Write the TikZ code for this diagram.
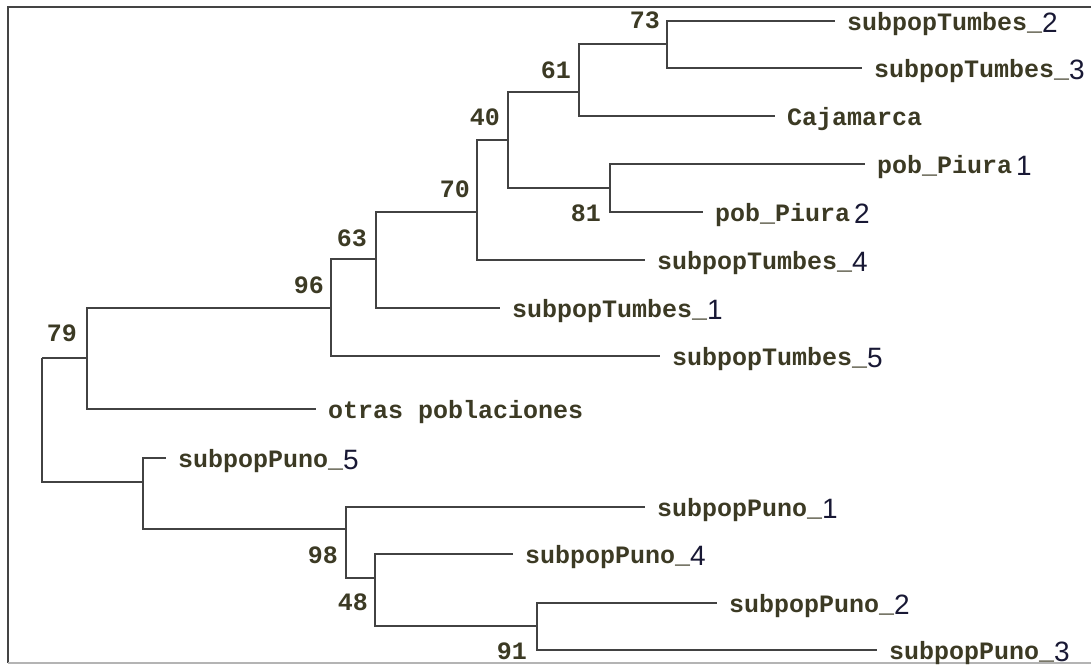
\documentclass[tikz,border=0pt]{standalone}
\usepackage{fontspec}
\newfontfamily\treefont{Liberation Mono}
\newfontfamily\tailfont{Liberation Sans}
\definecolor{branch}{RGB}{66,66,66}
\definecolor{ink}{RGB}{60,58,36}
\definecolor{tailink}{RGB}{24,24,52}
\definecolor{framedark}{RGB}{68,68,68}
\definecolor{framelight}{RGB}{180,180,180}
% trailing index digit of a taxon name, set in a proportional sans face
\newcommand{\tailnum}[1]{{\tailfont\mdseries\fontsize{28}{28}\selectfont\color{tailink}\raisebox{-2pt}{#1}}}

\tikzset{
  branchline/.style={draw=branch, line width=2.2pt},
  leaf/.style={anchor=west, inner xsep=12pt, inner ysep=0pt, outer sep=0pt,
    text height=23pt, text depth=5pt, text=ink,
    font={\treefont\bfseries\fontsize{25}{25}\selectfont}},
  boot/.style={anchor=east, inner sep=0pt, text=ink,
    font={\treefont\bfseries\fontsize{25}{25}\selectfont}},
}

\begin{document}
\begin{tikzpicture}[x=1pt, y=-1pt]
\useasboundingbox (0,0) rectangle (1091,665);

% window frame
\draw[framedark, line width=2pt] (7,7) -- (1091,7);
\draw[framedark, line width=2.4pt] (8,7) -- (8,663);
\draw[framelight, line width=1.5pt] (8,663) -- (1091,663);

% internal nodes (x of the vertical bar, y where the parent branch joins)
\coordinate (root)  at (42,358);
\coordinate (n79)   at (87,358);
\coordinate (n96)   at (331,308);
\coordinate (n63)   at (376,259);
\coordinate (n70)   at (477,212);
\coordinate (n40)   at (508,140);
\coordinate (n61)   at (579,92);
\coordinate (n73)   at (667,44);
\coordinate (n81)   at (610,188);
\coordinate (npuno) at (143,482);
\coordinate (n98)   at (346,529);
\coordinate (n48)   at (375,578);
\coordinate (n91)   at (537,626);

% taxa
\node[leaf] (t2)    at (835,21)  {subpopTumbes\_\tailnum{2}};
\node[leaf] (t3)    at (862,68)  {subpopTumbes\_\tailnum{3}};
\node[leaf] (caj)   at (775,116) {Cajamarca};
\node[leaf] (p1)    at (865,164) {pob\_Piura\,\tailnum{1}};
\node[leaf] (p2)    at (703,212) {pob\_Piura\,\tailnum{2}};
\node[leaf] (t4)    at (645,260) {subpopTumbes\_\tailnum{4}};
\node[leaf] (t1)    at (500,308) {subpopTumbes\_\tailnum{1}};
\node[leaf] (t5)    at (660,356) {subpopTumbes\_\tailnum{5}};
\node[leaf] (otras) at (316,409) {otras poblaciones};
\node[leaf] (pu5)   at (166,458) {subpopPuno\_\tailnum{5}};
\node[leaf] (pu1)   at (645,507) {subpopPuno\_\tailnum{1}};
\node[leaf] (pu4)   at (513,554) {subpopPuno\_\tailnum{4}};
\node[leaf] (pu2)   at (717,603) {subpopPuno\_\tailnum{2}};
\node[leaf] (pu3)   at (877,650) {subpopPuno\_\tailnum{3}};

% branches
\draw[branchline] (root) |- (n79);
\draw[branchline] (root) |- (npuno);
\draw[branchline] (n79) |- (n96);
\draw[branchline] (n79) |- (otras);
\draw[branchline] (n96) |- (n63);
\draw[branchline] (n96) |- (t5);
\draw[branchline] (n63) |- (n70);
\draw[branchline] (n63) |- (t1);
\draw[branchline] (n70) |- (n40);
\draw[branchline] (n70) |- (t4);
\draw[branchline] (n40) |- (n61);
\draw[branchline] (n40) |- (n81);
\draw[branchline] (n61) |- (n73);
\draw[branchline] (n61) |- (caj);
\draw[branchline] (n73) |- (t2);
\draw[branchline] (n73) |- (t3);
\draw[branchline] (n81) |- (p1);
\draw[branchline] (n81) |- (p2);
\draw[branchline] (npuno) |- (pu5);
\draw[branchline] (npuno) |- (n98);
\draw[branchline] (n98) |- (pu1);
\draw[branchline] (n98) |- (n48);
\draw[branchline] (n48) |- (pu4);
\draw[branchline] (n48) |- (n91);
\draw[branchline] (n91) |- (pu2);
\draw[branchline] (n91) |- (pu3);

% bootstrap support values
\node[boot] (b73) at (660,20)  {73};
\node[boot] (b61) at (571,70)  {61};
\node[boot] (b40) at (500,117) {40};
\node[boot] (b81) at (601,213) {81};
\node[boot] (b70) at (470,189) {70};
\node[boot] (b63) at (367,238) {63};
\node[boot] (b96) at (324,285) {96};
\node[boot] (b79) at (77,333)  {79};
\node[boot] (b98) at (338,555) {98};
\node[boot] (b48) at (368,602) {48};
\node[boot] (b91) at (527,651) {91};
\end{tikzpicture}
\end{document}
